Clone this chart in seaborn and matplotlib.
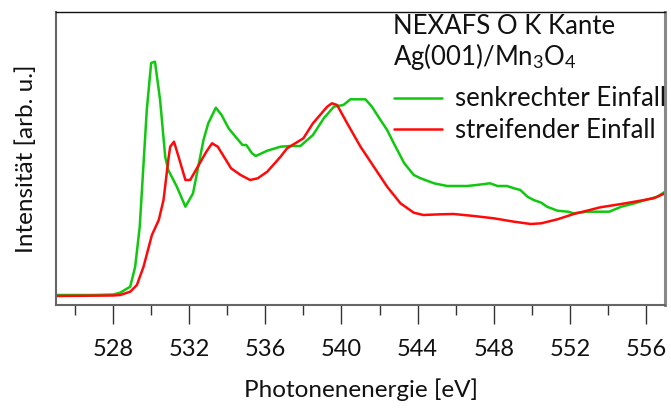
import numpy as np
import pandas as pd
import matplotlib
matplotlib.use("Agg")
import matplotlib.pyplot as plt
import seaborn as sns

# ---- data (intensity in arbitrary units) ----
energy_senkrecht = [525.0, 527.0, 528.0, 528.37, 528.9, 529.16, 529.4, 529.77, 530.0, 530.2,
                    530.47, 530.74, 530.9, 531.35, 531.8, 532.2, 532.75, 533.0, 533.4, 533.7,
                    534.07, 534.5, 534.8, 535.0, 535.3, 535.5, 536.1, 536.8, 537.3, 537.84,
                    538.5, 539.07, 539.6, 540.1, 540.47, 541.26, 541.6, 542.05, 542.4, 542.75,
                    543.3, 543.8, 544.16, 544.86, 545.56, 546.6, 547.1, 547.8, 548.2, 548.7,
                    549.07, 549.4, 549.77, 550.1, 550.5, 550.8, 551.35, 551.9, 552.2, 552.9,
                    553.45, 554.07, 554.7, 555.4, 556.1, 556.6, 557.0]
int_senkrecht = [1.0, 1.0, 1.5, 3.3, 9.3, 29.3, 69.3, 186.0, 233.0, 234.3,
                 196.0, 139.0, 126.0, 109.3, 89.3, 102.7, 156.0, 172.7, 188.3, 181.0,
                 167.7, 157.7, 151.0, 151.0, 142.7, 140.0, 145.3, 149.3, 150.0, 150.0,
                 161.0, 177.7, 189.3, 191.0, 196.7, 196.7, 189.3, 176.0, 166.0, 152.7,
                 132.7, 121.0, 117.7, 112.7, 110.0, 110.0, 111.0, 112.7, 110.0, 110.0,
                 107.7, 106.0, 99.3, 96.0, 93.3, 89.3, 85.3, 84.3, 82.7, 84.3,
                 84.3, 84.3, 89.3, 92.7, 96.7, 99.3, 104.3]

energy_streifend = [525.0, 528.0, 528.37, 528.9, 529.25, 529.6, 530.04, 530.4, 530.65, 530.9,
                    531.0, 531.2, 531.44, 531.8, 532.05, 532.5, 532.9, 533.2, 533.5, 534.2,
                    534.7, 535.2, 535.6, 536.1, 536.8, 537.14, 538.0, 538.5, 539.25, 539.5,
                    539.77, 540.3, 541.0, 541.7, 542.4, 543.1, 543.8, 544.3, 545.2, 545.9,
                    546.96, 548.0, 549.07, 549.95, 550.5, 551.35, 552.2, 552.9, 553.6, 554.7,
                    555.7, 556.4, 557.0]
int_streifend = [0.0, 0.5, 1.0, 4.3, 11.0, 29.3, 61.0, 76.0, 96.0, 136.0,
                 149.3, 154.3, 139.3, 116.0, 116.0, 131.0, 144.3, 152.7, 149.3, 127.7,
                 121.0, 116.0, 117.7, 124.3, 139.3, 147.7, 157.7, 172.7, 189.3, 192.7,
                 191.0, 172.7, 149.3, 129.3, 109.3, 92.7, 83.3, 81.0, 81.7, 82.0,
                 80.0, 77.7, 74.3, 72.0, 72.7, 76.7, 82.0, 85.3, 88.7, 92.0,
                 95.3, 97.7, 102.7]

series_labels = ["senkrechter Einfall", "streifender Einfall"]
series_colors = ["#10c810", "#ff0a0a"]
title_lines = ["NEXAFS O K Kante", "Ag(001)/Mn$_3$O$_4$"]
xticks_major = [528, 532, 536, 540, 544, 548, 552, 556]

df = pd.concat([
    pd.DataFrame({"E": energy_senkrecht, "I": int_senkrecht, "s": series_labels[0]}),
    pd.DataFrame({"E": energy_streifend, "I": int_streifend, "s": series_labels[1]}),
], ignore_index=True)

sns.set_theme(style="white")
plt.rcParams["font.family"] = ["Lato", "DejaVu Sans"]
plt.rcParams["mathtext.fontset"] = "custom"
plt.rcParams["mathtext.rm"] = "Lato"
plt.rcParams["mathtext.it"] = "Lato:italic"

W, H = 671, 408
fig = plt.figure(figsize=(W / 100, H / 100), dpi=100)
ax = fig.add_axes([56 / W, 1 - 305 / H, 609 / W, 293 / H])

sns.lineplot(data=df, x="E", y="I", hue="s", palette=dict(zip(series_labels, series_colors)),
             linewidth=1.8, ax=ax, sort=False, estimator=None)

ax.set_xlim(525, 557)
ax.set_ylim(-9, 284)
ax.set_xticks(xticks_major)
ax.set_xticks(np.arange(526, 557, 4), minor=True)
ax.set_yticks([])
ax.tick_params(axis="x", which="major", direction="out", length=13.5, width=1.0,
               color="#333333", labelsize=17, pad=11, bottom=True, labelcolor="#111111")
ax.tick_params(axis="x", which="minor", direction="out", length=7, width=1.0,
               color="#333333", bottom=True)

ax.set_xlabel("Photonenenergie [eV]", fontsize=17.5, color="#111111", labelpad=13)
ax.set_ylabel("Intensität [arb. u.]", fontsize=17.5, color="#111111", labelpad=14)

for side in ["left", "bottom"]:
    ax.spines[side].set_color("#666666")
    ax.spines[side].set_linewidth(1.5)
ax.spines["top"].set_color("#111111")
ax.spines["top"].set_linewidth(1.0)
ax.spines["right"].set_color("#888888")
ax.spines["right"].set_linewidth(2.2)

# header lines of the legend block
fig.text(393 / W, 1 - 34 / H, title_lines[0], fontsize=18.5, color="#111111",
         ha="left", va="baseline")
fig.text(393 / W, 1 - 65 / H, title_lines[1], fontsize=18.5, color="#111111",
         ha="left", va="baseline")

leg = ax.legend(loc="upper left", bbox_to_anchor=(394 / W, 1 - 86.5 / H),
                bbox_transform=fig.transFigure, frameon=False, fontsize=18.5,
                handlelength=1.87, handletextpad=0.5, borderaxespad=0.0,
                labelspacing=0.27, borderpad=0.0)
for line in leg.get_lines():
    line.set_linewidth(1.8)
for t in leg.get_texts():
    t.set_color("#111111")

fig.savefig("out.png", dpi=100)
